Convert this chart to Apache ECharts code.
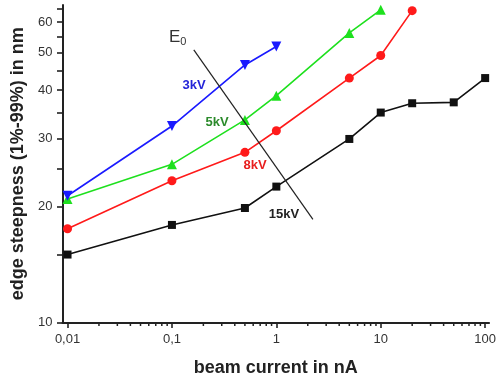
<!DOCTYPE html>
<html><head><meta charset="utf-8">
<script src="https://cdn.jsdelivr.net/npm/echarts@6/dist/echarts.min.js"></script>
<style>html,body{margin:0;padding:0;background:#fff}#c{width:499px;height:383px}</style>
</head><body><div id="c"></div>
<script>
// ---- data ----
const current3 = [0.01, 0.1, 0.5, 1];
const steep3kV = [21.3, 32.3, 46.5, 51.9];
const current5 = [0.01, 0.1, 0.5, 1, 5, 10];
const steep5kV = [20.9, 25.7, 33.5, 38.7, 56.3, 64.6];
const current8 = [0.01, 0.1, 0.5, 1, 5, 10, 20];
const steep8kV = [17.5, 23.3, 27.6, 31.4, 43.0, 49.2, 64.3];
const current15 = [0.01, 0.1, 0.5, 1, 5, 10, 20, 50, 100];
const steep15kV = [15.0, 17.9, 19.8, 22.5, 29.9, 35.0, 37.0, 37.2, 43.0];
const xMajorTicks = [0.01, 0.1, 1, 10, 100];
const xTickLabels = ['0,01', '0,1', '1', '10', '100'];
const xMinorTicks = [0.02,0.03,0.04,0.05,0.06,0.07,0.08,0.09,
                     0.2,0.3,0.4,0.5,0.6,0.7,0.8,0.9,
                     2,3,4,5,6,7,8,9,
                     20,30,40,50,60,70,80,90];
const yMajorTicks = [10, 20, 30, 40, 50, 60];
const yTickLabels = ['10', '20', '30', '40', '50', '60'];
const yMinorTicks = [15, 25, 35, 45, 55, 65];
const arrowE0 = [[2.24, 18.5], [0.162, 50.9]];
const seriesNames = ['3kV', '5kV', '8kV', '15kV'];

const X_MIN = 0.00895, X_MAX = 109, Y_MIN = 10, Y_MAX = 66.5;
const zip = (a, b) => a.map((v, i) => [v, b[i]]);
const nearestLabel = (v, ticks, labels) => {
  let best = 0, bd = Infinity;
  ticks.forEach((t, i) => { const d = Math.abs(Math.log10(v) - Math.log10(t)); if (d < bd) { bd = d; best = i; } });
  return labels[best];
};

const chart = echarts.init(document.getElementById('c'), null, { renderer: 'canvas' });
const axisCol = '#222';
const font = 'Liberation Sans, Arial, sans-serif';

// x minor ticks drawn through the axes' own coordinate mapping
const xMinorTickSeries = {
  type: 'custom', silent: true, clip: false, z: 5,
  data: xMinorTicks.map(v => [v, Y_MIN]),
  renderItem: (params, api) => {
    const p = api.coord([api.value(0), api.value(1)]);
    return { type: 'line', shape: { x1: p[0], y1: p[1], x2: p[0], y2: p[1] + 3.5 },
             style: { stroke: axisCol, lineWidth: 1.5 } };
  }
};

const option = {
  backgroundColor: '#fff',
  animation: false,
  grid: { left: 62.5, right: 8.5, top: 5, bottom: 60.5 },
  xAxis: {
    type: 'log', min: X_MIN, max: X_MAX, logBase: 10,
    name: 'beam current in nA', nameLocation: 'middle', nameGap: 37,
    nameTextStyle: { fontFamily: font, fontWeight: 'bold', fontSize: 18, color: '#222' },
    axisLine: { lineStyle: { color: axisCol, width: 2 } },
    axisTick: { customValues: xMajorTicks, length: 5.5, lineStyle: { color: axisCol, width: 1.6 } },
    axisLabel: { customValues: xMajorTicks, margin: 10, fontFamily: font, fontSize: 13, color: '#333',
      formatter: v => nearestLabel(v, xMajorTicks, xTickLabels) },
    splitLine: { show: false }, minorTick: { show: false }
  },
  yAxis: {
    type: 'log', min: Y_MIN, max: Y_MAX, logBase: 10,
    name: 'edge steepness (1%-99%) in nm', nameLocation: 'middle', nameGap: 32, nameRotate: 90,
    nameTextStyle: { fontFamily: font, fontWeight: 'bold', fontSize: 18, color: '#222' },
    axisLine: { lineStyle: { color: axisCol, width: 2 } },
    axisTick: { customValues: yMajorTicks.concat(yMinorTicks), length: 5.5, lineStyle: { color: axisCol, width: 1.6 } },
    axisLabel: { customValues: yMajorTicks, margin: 10, fontFamily: font, fontSize: 13, color: '#333',
      formatter: v => nearestLabel(v, yMajorTicks, yTickLabels) },
    splitLine: { show: false }, minorTick: { show: false }
  },
  series: [
    xMinorTickSeries,
  {
    name: seriesNames[3], type: 'line',
    data: zip(current15, steep15kV), symbol: 'rect', symbolSize: 8,
    lineStyle: { color: '#111', width: 1.6 }, itemStyle: { color: '#111' },
    markLine: {
      silent: true, symbol: ['none', 'arrow'], symbolSize: [0, 7],
      lineStyle: { color: '#222', width: 1.2, type: 'solid' }, label: { show: false },
      data: [[{ coord: arrowE0[0] }, { coord: arrowE0[1] }]]
    }
  }, {
    name: seriesNames[2], type: 'line',
    data: zip(current8, steep8kV), symbol: 'circle', symbolSize: 9,
    lineStyle: { color: '#ff1a1a', width: 1.6 }, itemStyle: { color: '#ff1a1a' }
  }, {
    name: seriesNames[1], type: 'line',
    data: zip(current5, steep5kV), symbol: 'triangle', symbolSize: 10,
    lineStyle: { color: '#1ee01e', width: 1.6 }, itemStyle: { color: '#1ee01e' }
  }, {
    name: seriesNames[0], type: 'line',
    data: zip(current3, steep3kV), symbol: 'triangle', symbolRotate: 180, symbolSize: 10,
    lineStyle: { color: '#1a1aff', width: 1.6 }, itemStyle: { color: '#1a1aff' }
  }],
  graphic: [
    { type: 'text', x: 194, y: 85, z: 100, style: { text: seriesNames[0], fill: '#2424d8', font: 'bold 13px ' + font, textAlign: 'center', textVerticalAlign: 'middle' } },
    { type: 'text', x: 217, y: 122, z: 100, style: { text: seriesNames[1], fill: '#2b8a2b', font: 'bold 13px ' + font, textAlign: 'center', textVerticalAlign: 'middle' } },
    { type: 'text', x: 255, y: 165, z: 100, style: { text: seriesNames[2], fill: '#e81e1e', font: 'bold 13px ' + font, textAlign: 'center', textVerticalAlign: 'middle' } },
    { type: 'text', x: 284, y: 214, z: 100, style: { text: seriesNames[3], fill: '#222', font: 'bold 13px ' + font, textAlign: 'center', textVerticalAlign: 'middle' } },
    { type: 'text', x: 169, y: 27, z: 100, style: { text: '{a|E}{b|0}', rich: {
        a: { fontFamily: font, fontSize: 17, fill: '#333', color: '#333' },
        b: { fontFamily: font, fontSize: 11, fill: '#333', color: '#333', padding: [9, 0, 0, 0] } } } }
  ]
};
chart.setOption(option);
</script>
</body></html>
